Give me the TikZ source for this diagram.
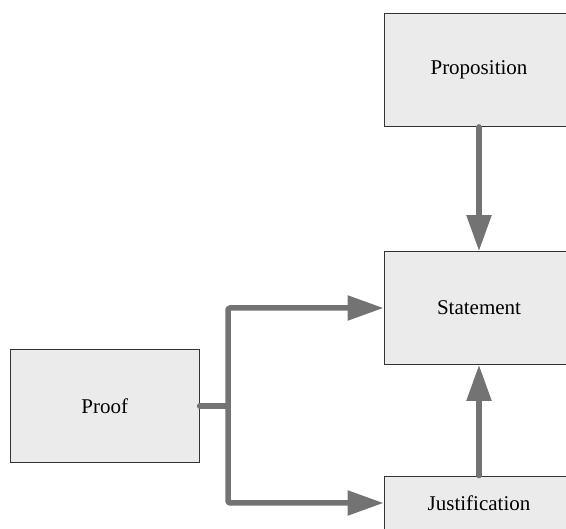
\documentclass[tikz,border=0pt]{standalone}
\usepackage{fontspec}
\setmainfont{Liberation Serif}
\newfontfamily\boxfont{Liberation Serif}
\usetikzlibrary{arrows.meta}
\definecolor{boxgray}{HTML}{EBEBEB}
\definecolor{linkgray}{HTML}{737373}
\begin{document}
\begin{tikzpicture}[x=1pt,y=-1pt,
  block/.style={draw=black!80, line width=0.9pt, fill=boxgray, inner sep=0pt,
    font=\boxfont\fontsize{21}{25}\selectfont},
  link/.style={draw=linkgray, line width=5.5pt, line cap=round, line join=round,
    rounded corners=2pt, -{Triangle[length=36pt,width=24pt]}},
  trunk/.style={draw=linkgray, line width=5.5pt, line cap=round},
]
\useasboundingbox (0,0) rectangle (566,529);
\clip (0,0) rectangle (566,529);

% boxes
\node[block, minimum width=190pt, minimum height=113pt] (prop) at (479,70) {Proposition};
\node[block, minimum width=190pt, minimum height=113pt] (stmt) at (479,308) {Statement};
\node[block, minimum width=189pt, minimum height=113pt] (proof) at (104.7,406) {Proof};
\node[block, minimum width=190pt, minimum height=54pt] (just) at (479,503) {Justification};

% branch point of the proof connector
\coordinate (j) at (228,406);

% connectors
\draw[trunk] (proof.east) -- (j);
\draw[link] (j) |- (stmt.west);
\draw[link] (j) |- (just.west);
\draw[link] (prop.south) -- (stmt.north);
\draw[link] (just.north) -- (stmt.south);
\end{tikzpicture}
\end{document}
